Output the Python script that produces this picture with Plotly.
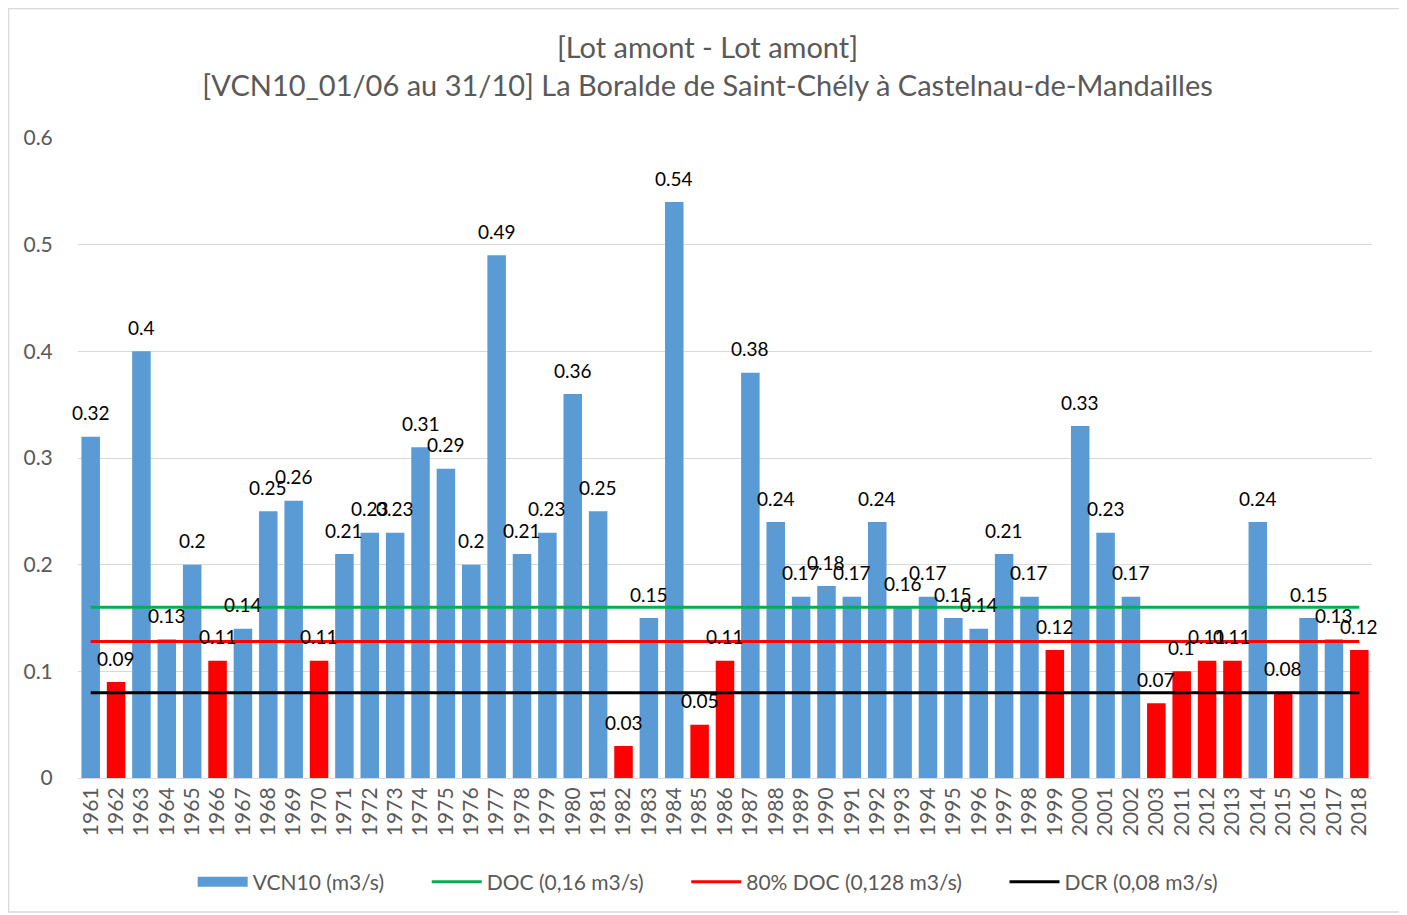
import plotly.graph_objects as go

years = [str(y) for y in range(1961, 2004)] + [str(y) for y in range(2011, 2019)]
vcn10 = [0.32, 0.09, 0.4, 0.13, 0.2, 0.11, 0.14, 0.25, 0.26, 0.11,
         0.21, 0.23, 0.23, 0.31, 0.29, 0.2, 0.49, 0.21, 0.23, 0.36,
         0.25, 0.03, 0.15, 0.54, 0.05, 0.11, 0.38, 0.24, 0.17, 0.18,
         0.17, 0.24, 0.16, 0.17, 0.15, 0.14, 0.21, 0.17, 0.12, 0.33,
         0.23, 0.17, 0.07, 0.1, 0.11, 0.11, 0.24, 0.08, 0.15, 0.13, 0.12]
doc = 0.16
doc80 = 0.128
dcr = 0.08
y_ticks = [0, 0.1, 0.2, 0.3, 0.4, 0.5, 0.6]
y_ticklabels = ["0", "0.1", "0.2", "0.3", "0.4", "0.5", "0.6"]

BLUE = "#5b9bd5"
RED = "#ff0000"
colors = [RED if v < doc80 else BLUE for v in vcn10]

FONT = "Lato"
GRAY = "#595959"
PAD = "\u00a0" * 7

fig = go.Figure()
fig.add_trace(go.Bar(
    x=years, y=vcn10, name="VCN10 (m3/s)", showlegend=False,
    marker=dict(color=colors, line=dict(width=0)),
    cliponaxis=False,
))
# legend-only entry to mimic the wide bar swatch
fig.add_trace(go.Scatter(x=[None], y=[None], mode="lines", name="VCN10 (m3/s)" + PAD,
                         line=dict(color=BLUE, width=14)))
fig.add_trace(go.Scatter(x=years, y=[doc] * len(years), mode="lines",
                         name="DOC (0,16 m3/s)" + PAD, line=dict(color="#00b050", width=3)))
fig.add_trace(go.Scatter(x=years, y=[doc80] * len(years), mode="lines",
                         name="80% DOC (0,128 m3/s)" + PAD, line=dict(color="#ff0000", width=3)))
fig.add_trace(go.Scatter(x=years, y=[dcr] * len(years), mode="lines",
                         name="DCR (0,08 m3/s)", line=dict(color="#000000", width=3)))

# data labels: on a category axis, annotation x is the category index
for i, v in enumerate(vcn10):
    fig.add_annotation(x=i, y=v, xref="x", yref="y", text=f"{v:g}", showarrow=False,
                       yanchor="middle", yshift=24,
                       font=dict(family=FONT, size=19, color="black"))

fig.update_layout(
    width=1399, height=907,
    margin=dict(l=70, r=35, t=130, b=137),
    paper_bgcolor="white", plot_bgcolor="white",
    bargap=0.27,
    font=dict(family=FONT, color=GRAY),
    title=dict(
        text="[Lot amont - Lot amont]<br>[VCN10_01/06 au 31/10] La Boralde de Saint-Chély à Castelnau-de-Mandailles",
        x=0.5, xanchor="center", y=0.945, yanchor="middle",
        font=dict(family=FONT, size=29, color=GRAY),
    ),
    showlegend=True,
    legend=dict(orientation="h", x=0.487, xanchor="center", y=-0.1625, yanchor="middle",
                font=dict(family=FONT, size=21, color=GRAY), itemwidth=50,
                traceorder="normal"),
    xaxis=dict(type="category", categoryorder="array", categoryarray=years,
               range=[-0.5, len(years) - 0.5],
               tickangle=-90, tickfont=dict(family=FONT, size=21, color=GRAY),
               showline=True, linecolor="#d9d9d9", linewidth=1, ticks="", showgrid=False,
               automargin=False),
    yaxis=dict(range=[0, 0.6], tickvals=y_ticks, ticktext=y_ticklabels,
               showgrid=True, gridcolor="#d9d9d9",
               gridwidth=1, zeroline=False, showline=False, ticks="outside", ticklen=20,
               tickcolor="white", tickfont=dict(family=FONT, size=21, color=GRAY),
               automargin=False),
    shapes=[dict(type="rect", xref="paper", yref="paper", x0=-0.0537, x1=1.0216,
                 y0=-0.2094, y1=1.2023, line=dict(color="#d9d9d9", width=1.5),
                 fillcolor="rgba(0,0,0,0)", layer="below")],
)

fig.write_html("out.html")
